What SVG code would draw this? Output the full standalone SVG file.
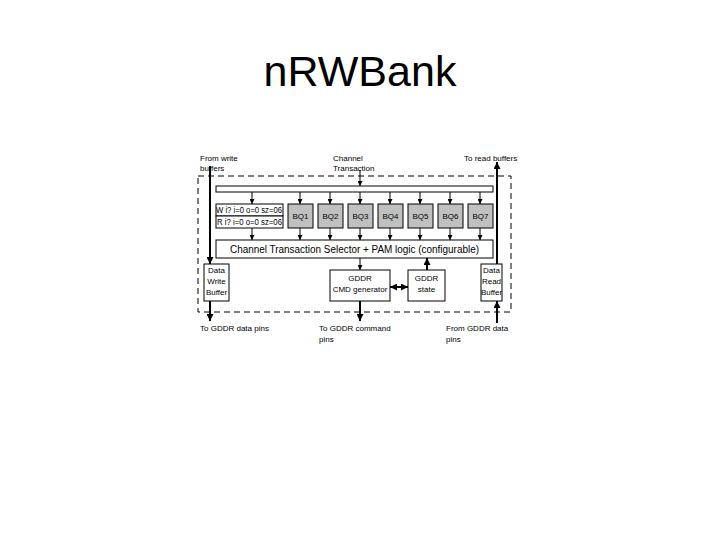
<svg xmlns="http://www.w3.org/2000/svg" width="720" height="540" viewBox="0 0 720 540">
<style>
text{font-family:"Liberation Sans",Arial,sans-serif;fill:#000}
.s{font-size:8px}
.m{font-size:8.5px}
.c{text-anchor:middle}
.box{fill:#fff;stroke:#000;stroke-width:1}
.q{fill:#c0c0c0;stroke:#000;stroke-width:1}
.ln{stroke:#000;stroke-width:1;fill:none}
.th{stroke:#000;stroke-width:2;fill:none}
</style>
<defs>
<marker id="a" viewBox="0 0 6 6" refX="6" refY="3" markerWidth="5" markerHeight="5" markerUnits="userSpaceOnUse" orient="auto-start-reverse"><path d="M0,0L6,3L0,6z" fill="#000"/></marker>
<marker id="b" viewBox="0 0 6 6" refX="6" refY="3" markerWidth="7" markerHeight="7" markerUnits="userSpaceOnUse" orient="auto-start-reverse"><path d="M0,0L6,3L0,6z" fill="#000"/></marker>
</defs>
<rect width="720" height="540" fill="#fff"/>
<text x="360" y="86" class="c" style="font-size:43px">nRWBank</text>

<g id="boundary"><rect x="198" y="176" width="313" height="136" fill="none" stroke="#000" stroke-dasharray="6,4"/></g>

<g id="labels">
<text x="200" y="161" class="s">From write</text>
<text x="200" y="171" class="s">buffers</text>
<text x="333" y="161" class="s">Channel</text>
<text x="333" y="171" class="s">Transaction</text>
<text x="464" y="161" class="s">To read buffers</text>
<text x="200" y="331" class="s">To GDDR data pins</text>
<text x="319" y="331" class="s">To GDDR command</text>
<text x="319" y="342" class="s">pins</text>
<text x="446" y="331" class="s">From GDDR data</text>
<text x="446" y="342" class="s">pins</text>
</g>

<g id="bar"><rect x="216" y="186" width="277" height="6" class="box"/></g>

<g id="wr"><rect x="216" y="204" width="67" height="12" class="box"/><rect x="216" y="216" width="67" height="12" class="box"/>
<text x="216" y="213" class="m" textLength="66" lengthAdjust="spacingAndGlyphs">W i? i=0 o=0 sz=06</text>
<text x="217" y="225" class="m" textLength="65" lengthAdjust="spacingAndGlyphs">R i? i=0 o=0 sz=06</text></g>
<g id="bq1"><rect x="288" y="204" width="25" height="24" class="q"/><text x="300.5" y="219" class="s c">BQ1</text></g>
<g id="bq2"><rect x="318" y="204" width="25" height="24" class="q"/><text x="330.5" y="219" class="s c">BQ2</text></g>
<g id="bq3"><rect x="348" y="204" width="25" height="24" class="q"/><text x="360.5" y="219" class="s c">BQ3</text></g>
<g id="bq4"><rect x="378" y="204" width="25" height="24" class="q"/><text x="390.5" y="219" class="s c">BQ4</text></g>
<g id="bq5"><rect x="408" y="204" width="25" height="24" class="q"/><text x="420.5" y="219" class="s c">BQ5</text></g>
<g id="bq6"><rect x="438" y="204" width="25" height="24" class="q"/><text x="450.5" y="219" class="s c">BQ6</text></g>
<g id="bq7"><rect x="468" y="204" width="25" height="24" class="q"/><text x="480.5" y="219" class="s c">BQ7</text></g>

<g id="selector"><rect x="216" y="240" width="277" height="18" class="box"/><text x="354.5" y="253" style="font-size:10px" class="c" textLength="249" lengthAdjust="spacingAndGlyphs">Channel Transaction Selector + PAM logic (configurable)</text></g>

<g id="dwb"><rect x="204" y="264" width="25" height="37" class="box"/><text x="216.5" y="273" class="s c">Data</text><text x="216.5" y="284" class="s c">Write</text><text x="216.5" y="295" class="s c">Buffer</text></g>
<g id="drb"><rect x="481" y="264" width="21" height="37" class="box"/><text x="491.5" y="273" class="s c">Data</text><text x="491.5" y="284" class="s c">Read</text><text x="491.5" y="295" class="s c">Buffer</text></g>
<g id="cmd"><rect x="330" y="270" width="60" height="31" class="box"/><text x="360" y="281" class="s c">GDDR</text><text x="360" y="292" class="s c">CMD generator</text></g>
<g id="state"><rect x="408" y="270" width="37" height="31" class="box"/><text x="426.5" y="281" class="s c">GDDR</text><text x="426.5" y="292" class="s c">state</text></g>

<g id="connectors">
<line x1="210" y1="166" x2="210" y2="264" class="th" marker-end="url(#b)"/>
<line x1="497" y1="264" x2="497" y2="162" class="th" marker-end="url(#b)"/>
<line x1="360" y1="170" x2="360" y2="186" class="ln" marker-end="url(#a)"/>
<line x1="252" y1="192" x2="252" y2="204" class="ln" marker-end="url(#a)"/>
<line x1="300" y1="192" x2="300" y2="204" class="ln" marker-end="url(#a)"/>
<line x1="330" y1="192" x2="330" y2="204" class="ln" marker-end="url(#a)"/>
<line x1="360" y1="192" x2="360" y2="204" class="ln" marker-end="url(#a)"/>
<line x1="390" y1="192" x2="390" y2="204" class="ln" marker-end="url(#a)"/>
<line x1="420" y1="192" x2="420" y2="204" class="ln" marker-end="url(#a)"/>
<line x1="450" y1="192" x2="450" y2="204" class="ln" marker-end="url(#a)"/>
<line x1="480" y1="192" x2="480" y2="204" class="ln" marker-end="url(#a)"/>
<line x1="252" y1="228" x2="252" y2="240" class="ln" marker-end="url(#a)"/>
<line x1="300" y1="228" x2="300" y2="240" class="ln" marker-end="url(#a)"/>
<line x1="330" y1="228" x2="330" y2="240" class="ln" marker-end="url(#a)"/>
<line x1="360" y1="228" x2="360" y2="240" class="ln" marker-end="url(#a)"/>
<line x1="390" y1="228" x2="390" y2="240" class="ln" marker-end="url(#a)"/>
<line x1="420" y1="228" x2="420" y2="240" class="ln" marker-end="url(#a)"/>
<line x1="450" y1="228" x2="450" y2="240" class="ln" marker-end="url(#a)"/>
<line x1="480" y1="228" x2="480" y2="240" class="ln" marker-end="url(#a)"/>
<line x1="360" y1="258" x2="360" y2="270" class="ln" marker-end="url(#a)"/>
<line x1="427" y1="270" x2="427" y2="258" class="th" marker-end="url(#b)"/>
<line x1="390" y1="287" x2="408" y2="287" class="th" marker-start="url(#b)" marker-end="url(#b)"/>
<line x1="210" y1="301" x2="210" y2="321" class="th" marker-end="url(#b)"/>
<line x1="360" y1="301" x2="360" y2="321" class="th" marker-end="url(#b)"/>
<line x1="497" y1="323" x2="497" y2="301" class="th" marker-end="url(#b)"/>
</g>
</svg>
